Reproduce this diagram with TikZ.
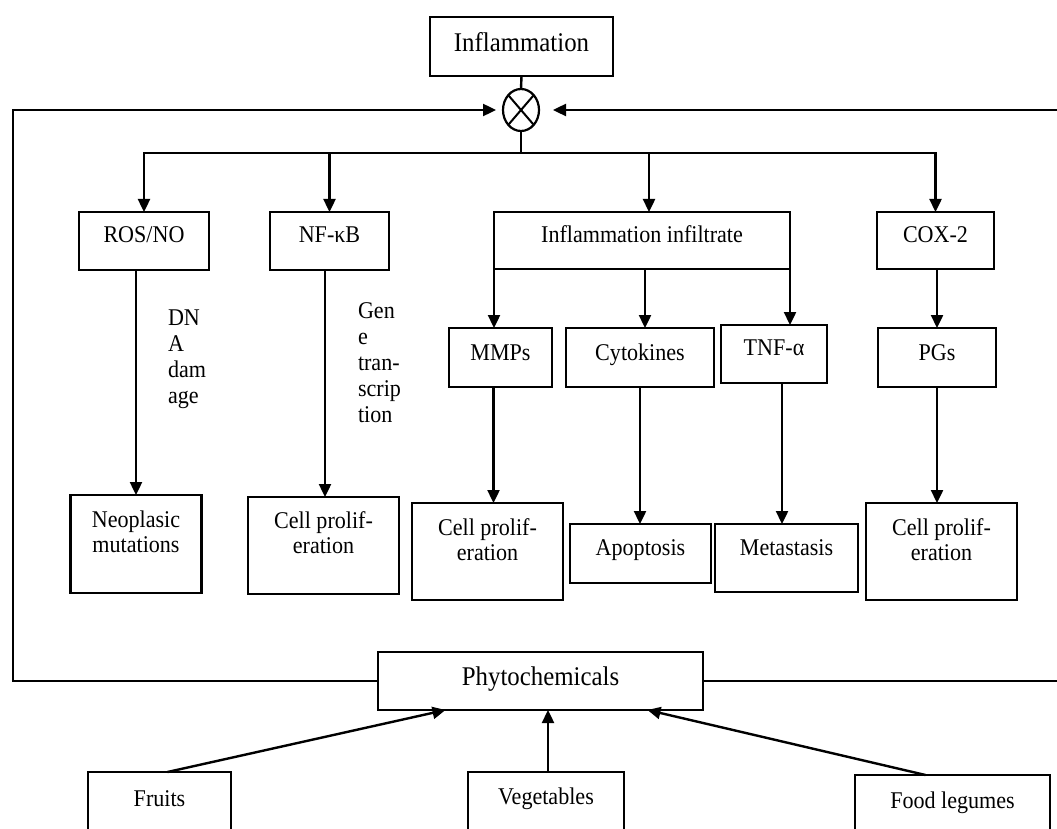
\documentclass[tikz,border=0pt]{standalone}
\usepackage{fontspec}
\setmainfont[FakeStretch=0.92]{Liberation Serif}
\usetikzlibrary{arrows.meta,shapes.geometric}

\begin{document}
\begin{tikzpicture}[y=1pt, x=1pt, yscale=-1, inner sep=0pt, outer sep=0pt]
\tikzset{
  box/.style={draw=black, line width=2.8pt, anchor=north, align=center,
    font=\fontsize{24}{25}\selectfont},
  bigbox/.style={box, font=\fontsize{27}{28}\selectfont},
  lbl/.style={anchor=north west, align=left, font=\fontsize{24}{26}\selectfont},
  conn/.style={draw=black, line width=2.4pt},
  arr/.style={conn, -{Triangle[length=13pt,width=12pt]}}
}
\clip (0,0) rectangle (1057,829);

\path (521.5,17) node[bigbox, minimum width=183, text height=35, text depth=24]
  (inflam) {Inflammation};
\path (521,110) node[ellipse, draw=black, line width=2.2pt, minimum width=36,
  minimum height=42] (mix) {};
\path[draw=black, line width=2pt] (mix.north west) -- (mix.south east)
  (mix.north east) -- (mix.south west);

\path (144,212) node[box, minimum width=130, text height=30, text depth=28]
  (rosno) {ROS/NO};
\path (329.5,212) node[box, minimum width=119, text height=30, text depth=28]
  (nfkb) {NF-κB};
\path (642,212) node[box, minimum width=296, text height=30, text depth=27]
  (infil) {Inflammation infiltrate};
\path (935.5,212) node[box, minimum width=117, text height=30, text depth=27]
  (cox) {COX-2};

\path (500.5,328) node[box, minimum width=103, text height=32, text depth=27]
  (mmps) {MMPs};
\path (640,328) node[box, minimum width=148, text height=32, text depth=27]
  (cyto) {Cytokines};
\path (774,325) node[box, minimum width=106, text height=30, text depth=28]
  (tnf) {TNF-α};
\path (937,328) node[box, minimum width=118, text height=32, text depth=27]
  (pgs) {PGs};

\path (136,495) node[box, minimum width=131, text height=57, text depth=41]
  (neopl) {Neoplasic\\mutations};
\path (323.5,497) node[box, minimum width=151, text height=56, text depth=41]
  (prolifa) {Cell prolif-\\eration};
\path (487.5,503) node[box, minimum width=151, text height=57, text depth=40]
  (prolifb) {Cell prolif-\\eration};
\path (640.5,524) node[box, minimum width=141, text height=31, text depth=28]
  (apop) {Apoptosis};
\path (786.5,524) node[box, minimum width=143, text height=31, text depth=37]
  (meta) {Metastasis};
\path (941.5,503) node[box, minimum width=151, text height=57, text depth=40]
  (prolifc) {Cell prolif-\\eration};

\path (540.5,652) node[bigbox, minimum width=325, text height=33, text depth=25]
  (phyto) {Phytochemicals};
\path (159.5,772) node[box, minimum width=143, text height=34, text depth=40]
  (fruits) {Fruits};
\path (546,772) node[box, minimum width=156, text height=32, text depth=40]
  (veg) {Vegetables};
\path (952.5,775) node[box, minimum width=195, text height=33, text depth=40]
  (legumes) {Food legumes};

\path (168,310) node[lbl] (dnadmg) {DN\\A\\dam\\age};
\path (358,303) node[lbl] (genetr) {Gen\\e\\tran-\\scrip\\tion};

% inflammation to the branches
\path[conn] (inflam.south) -- (mix.north);
\coordinate (split) at (521,153);
\path[conn] (mix.south) -- (split);
\path[arr] (split) -| (rosno.north);
\path[arr] (split) -| (nfkb.north);
\path[arr] (split) -| ([xshift=7]infil.north);
\path[arr] (split) -| (cox.north);

\path[arr] (infil.south west) -- (infil.south west |- mmps.north);
\path[arr] ([xshift=3]infil.south) -- ([xshift=3]infil.south |- cyto.north);
\path[arr] (infil.south east) -- (infil.south east |- tnf.north);
\path[arr] (pgs.north |- cox.south) -- (pgs.north);

\path[arr] (neopl.north |- rosno.south) -- (neopl.north);
\path[arr] ([xshift=1.5]prolifa.north |- nfkb.south) -- ([xshift=1.5]prolifa.north);
\path[arr] ([xshift=-7]mmps.south) -- ([xshift=-7]mmps.south |- prolifb.north);
\path[arr] (cyto.south) -- (cyto.south |- apop.north);
\path[arr] ([xshift=8]tnf.south) -- ([xshift=8]tnf.south |- meta.north);
\path[arr] (pgs.south) -- (pgs.south |- prolifc.north);

% feedback of the phytochemicals
\path[arr, shorten >=7pt] (phyto.west) -| (13,110) -- (mix.west);
\path[arr, shorten >=14pt] (phyto.east) -| (1065,110) -- (mix.east);

\path[arr] ([xshift=8]fruits.north) -- ([xshift=-95]phyto.south);
\path[arr] ([xshift=2]veg.north) -- ([xshift=2]veg.north |- phyto.south);
\path[arr] ([xshift=-27]legumes.north) -- ([xshift=107]phyto.south);

\end{tikzpicture}
\end{document}
